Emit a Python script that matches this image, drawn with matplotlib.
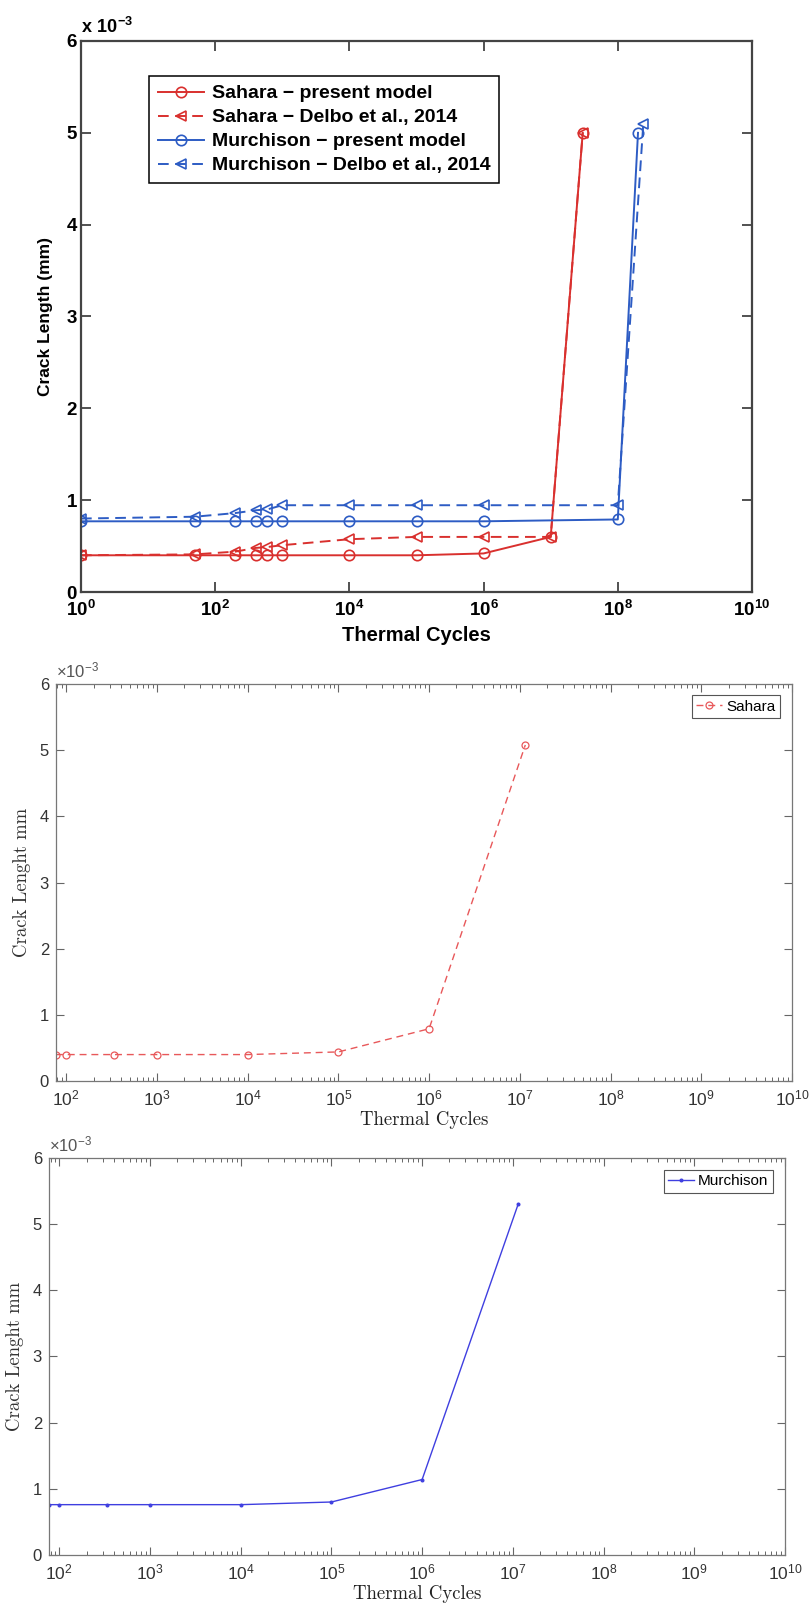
import numpy as np
import matplotlib
matplotlib.use('Agg')
import matplotlib.pyplot as plt

plt.rcParams['mathtext.fontset'] = 'custom'
plt.rcParams['mathtext.rm'] = 'Liberation Sans'
plt.rcParams['mathtext.bf'] = 'Liberation Sans:bold'

# ---- top panel: present model vs Delbo et al. (values in 1e-3 mm)
cyc_sahara = [1, 50, 200, 400, 600, 1e3, 1e4, 1e5, 1e6, 1e7, 3e7]
sahara_model = [0.40, 0.40, 0.40, 0.40, 0.40, 0.40, 0.40, 0.40, 0.42, 0.60, 5.00]
sahara_delbo = [0.40, 0.41, 0.44, 0.48, 0.49, 0.51, 0.575, 0.60, 0.60, 0.60, 5.00]

cyc_murch_model = [1, 50, 200, 400, 600, 1e3, 1e4, 1e5, 1e6, 1e8, 2e8]
murch_model = [0.77, 0.77, 0.77, 0.77, 0.77, 0.77, 0.77, 0.77, 0.77, 0.79, 5.00]
cyc_murch_delbo = [1, 50, 200, 400, 600, 1e3, 1e4, 1e5, 1e6, 1e8, 2.4e8]
murch_delbo = [0.80, 0.82, 0.86, 0.89, 0.90, 0.945, 0.945, 0.945, 0.945, 0.945, 5.10]

top_labels = ['Sahara \u2212 present model', 'Sahara \u2212 Delbo et al., 2014',
              'Murchison \u2212 present model', 'Murchison \u2212 Delbo et al., 2014']

# ---- middle / bottom panels
cyc_single = [77, 100, 333, 1e3, 1e4, 1e5, 1e6, 1.15e7]
sahara_single = [0.40, 0.40, 0.40, 0.40, 0.40, 0.44, 0.79, 5.08]
murch_single = [0.76, 0.76, 0.76, 0.76, 0.76, 0.80, 1.14, 5.31]

red = '#d9302e'
blue = '#2d5cc4'
sans = 'Liberation Sans'

fig = plt.figure(figsize=(8.1, 16.07), dpi=100)

# ================= top =================
ax = fig.add_axes([0.1, 0.6316, 0.8284, 0.3429])
y = lambda v: np.array(v) * 1e-3
ax.plot(cyc_sahara, y(sahara_model), '-o', color=red, lw=1.4, ms=7.5, mfc='none', mew=1.2, label=top_labels[0])
ax.plot(cyc_sahara, y(sahara_delbo), '<', color=red, ls=(0, (5.5, 3.3)), lw=1.4, ms=7.5, mfc='none', mew=1.2, label=top_labels[1])
ax.plot(cyc_murch_model, y(murch_model), '-o', color=blue, lw=1.4, ms=7.5, mfc='none', mew=1.2, label=top_labels[2])
ax.plot(cyc_murch_delbo, y(murch_delbo), '<', color=blue, ls=(0, (5.5, 3.3)), lw=1.4, ms=7.5, mfc='none', mew=1.2, label=top_labels[3])
ax.set_xscale('log')
ax.set_xlim(1, 1e10)
ax.set_ylim(0, 6e-3)
ax.set_xticks([10.0 ** k for k in range(0, 11, 2)])
ax.set_xticklabels([r'$\mathbf{10^{%d}}$' % k for k in range(0, 11, 2)], fontsize=13.5)
ax.xaxis.set_minor_locator(matplotlib.ticker.NullLocator())
ax.set_yticks(np.arange(7) * 1e-3)
ax.set_yticklabels([str(k) for k in range(7)], fontsize=13.5, fontweight='bold', family=sans)
ax.tick_params(direction='in', length=7, width=1.2, top=True, right=True, color='#333333')
ax.tick_params(axis='x', pad=6)
ax.tick_params(axis='y', pad=3)
for s in ax.spines.values():
    s.set_linewidth(1.6)
    s.set_color('#444444')
ax.set_xlabel('Thermal Cycles', fontsize=14.5, fontweight='bold', family=sans, labelpad=4)
ax.set_ylabel('Crack Length (mm)', fontsize=12.5, fontweight='bold', family=sans, labelpad=10)
ax.text(0.0, 1.008, r'$\mathbf{x\ 10^{-3}}$', transform=ax.transAxes, fontsize=13, ha='left', va='bottom')
leg = ax.legend(loc='upper left', bbox_to_anchor=(0.101, 0.9365), borderaxespad=0, fancybox=False,
                edgecolor='black', framealpha=1, handlelength=2.4, handletextpad=0.4, labelspacing=0.33,
                borderpad=0.45, prop={'family': sans, 'weight': 'bold', 'size': 14})
leg.get_frame().set_linewidth(1.1)

# ================= middle / bottom =================
def matlab_axes(rect, xs, ys, mk, col, lab, ms, ls, anchor):
    a = fig.add_axes(rect)
    a.plot(xs, y(ys), marker=mk, color=col, ls=ls, lw=1.0, ms=ms, mfc='none' if mk == 'o' else col,
           mew=0.9, label=lab)
    a.set_xscale('log')
    a.set_xlim(xs[0], 1e10)
    a.set_ylim(0, 6e-3)
    a.set_xticks([10.0 ** k for k in range(2, 11)])
    a.set_xticklabels([r'$\mathrm{10^{%d}}$' % k for k in range(2, 11)], fontsize=12.5, color='#333333')
    a.xaxis.set_minor_locator(matplotlib.ticker.LogLocator(base=10, subs=np.arange(2, 10)))
    a.xaxis.set_minor_formatter(matplotlib.ticker.NullFormatter())
    a.set_yticks(np.arange(7) * 1e-3)
    a.set_yticklabels([str(k) for k in range(7)], fontsize=12, color='#333333', family=sans)
    a.tick_params(which='major', direction='in', length=6, width=0.8, top=True, right=True, color='#666666')
    a.tick_params(which='minor', direction='in', length=3, width=0.7, top=True, right=True, color='#666666')
    a.tick_params(axis='x', pad=6)
    a.tick_params(axis='y', pad=5)
    for s in a.spines.values():
        s.set_linewidth(0.9)
        s.set_color('#777777')
    a.set_xlabel('Thermal Cycles', fontsize=13.5, family='cmr10', color='#222222', labelpad=1)
    a.set_ylabel('Crack Lenght mm', fontsize=13.5, family='cmr10', color='#333333', labelpad=6)
    a.text(0.0, 1.006, r'$\mathrm{\times10^{-3}}$', transform=a.transAxes, fontsize=12, color='#555555',
           ha='left', va='bottom')
    lg = a.legend(loc='upper right', bbox_to_anchor=anchor, borderaxespad=0, fancybox=False,
                  edgecolor='#555555', framealpha=1, handlelength=1.7, handletextpad=0.25,
                  borderpad=0.3, prop={'family': sans, 'size': 11})
    lg.get_frame().set_linewidth(0.8)
    return a

matlab_axes([0.0691, 0.3273, 0.9086, 0.2470], cyc_single, sahara_single, 'o', '#e8585a', 'Sahara',
            5, (0, (5, 3.5)), (0.9837, 0.972))
matlab_axes([0.0605, 0.0324, 0.9086, 0.2470], cyc_single, murch_single, '.', '#3f3fe0', 'Murchison',
            4, '-', (0.9837, 0.970))

fig.savefig('out.png', dpi=100)
